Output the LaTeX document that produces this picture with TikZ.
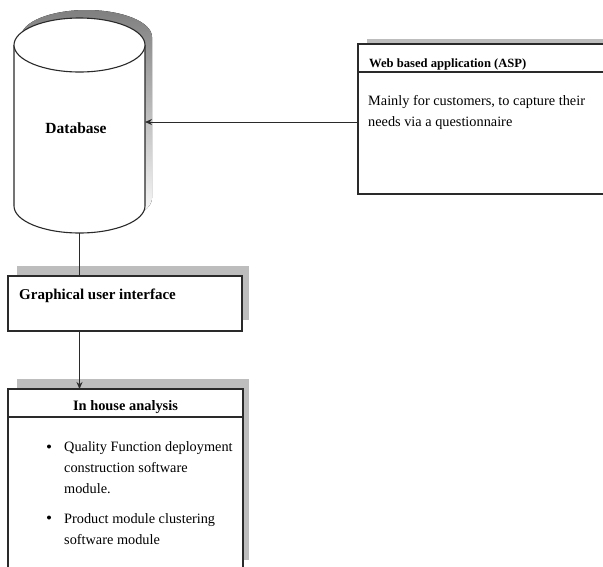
\documentclass[tikz,border=0pt]{standalone}
\usepackage{fontspec}
\setmainfont{Liberation Serif}
\usetikzlibrary{arrows.meta}
\definecolor{shade}{HTML}{BDBDBD}
\definecolor{ink}{HTML}{2A2A2A}
\tikzset{
  shadowfill/.style={fill=shade, draw=none},
  boxline/.style={draw=ink, line width=1.1pt},
  conn/.style={draw=ink, line width=1pt},
  arrowconn/.style={conn, -{Stealth[length=7pt,width=6pt]}},
  boldtxt/.style={font=\fontsize{15}{18}\selectfont\bfseries, inner sep=0pt},
  bodytxt/.style={font=\fontsize{14.3}{21}\selectfont, inner sep=0pt, align=left},
  bullet/.style={circle, fill=black, inner sep=0pt, minimum size=4pt}
}
\begin{document}
\begin{tikzpicture}[x=1pt,y=-1pt]
\useasboundingbox (0,0) rectangle (603,566);
% ---------- Database cylinder ----------
\def\cx{79.5}\def\rx{65.5}\def\ry{27}\def\ty{45}\def\by{206}
% shadow
\fill[shade, shift={(7,-8)}] (\cx-\rx,\ty) arc[start angle=180,end angle=360,x radius=\rx,y radius=\ry]
  -- (\cx+\rx,\by) arc[start angle=0,end angle=180,x radius=\rx,y radius=\ry] -- cycle;
% body
\filldraw[fill=white, boxline] (\cx-\rx,\ty) -- (\cx-\rx,\by)
  arc[start angle=180,end angle=0,x radius=\rx,y radius=\ry] -- (\cx+\rx,\ty);
\draw[fill=white, boxline] (\cx,\ty) ellipse[x radius=\rx, y radius=\ry];
\coordinate (dbright) at (\cx+\rx,122);
\coordinate (dbbottom) at (\cx,\by+\ry);
\node[boldtxt, font=\fontsize{15.5}{18}\selectfont\bfseries] (db) at (76,128) {Database};
% ---------- Web based application ----------
\fill[shadowfill] (367,39) rectangle (615,190);
\filldraw[fill=white, boxline] (358,44) rectangle (612,194);
\draw[boxline] (358,72) -- (612,72);
\coordinate (webleft) at (358,122);
\node[boldtxt, font=\fontsize{12.6}{15}\selectfont\bfseries, anchor=base west] (webhead) at (369,67) {Web based application (ASP)};
\node[bodytxt, anchor=base west] (webbody) at (368,126) {Mainly for customers, to capture their\\needs via a questionnaire};
% ---------- Graphical user interface ----------
\fill[shadowfill] (17,266) rectangle (249,320);
\filldraw[fill=white, boxline] (8,276) rectangle (242,331);
\node[boldtxt, anchor=base west] (guitxt) at (19,299) {Graphical user interface};
\coordinate (guitop) at (79.5,276);
\coordinate (guibottom) at (79.5,331);
% ---------- In house analysis ----------
\fill[shadowfill] (17,379) rectangle (249,560);
\fill[white] (8,389) rectangle (243,575);
\draw[boxline] (8,575) -- (8,389) -- (243,389) -- (243,575);
\draw[boxline] (8,417) -- (243,417);
\coordinate (ihtop) at (79.5,389);
\node[boldtxt, font=\fontsize{14.4}{18}\selectfont\bfseries, anchor=base] (ihhead) at (125.5,410) {In house analysis};
\node[bodytxt, anchor=base west] (item1) at (64,493) {Quality Function deployment\\construction software\\module.};
\node[bodytxt, anchor=base west] (item2) at (64,544) {Product module clustering\\software module};
\node[bullet] (b1) at (49,446.5) {};
\node[bullet] (b2) at (49,517.5) {};
% ---------- Connectors ----------
\draw[arrowconn] (webleft) -- (dbright);
\draw[conn] (dbbottom) -- (guitop);
\draw[arrowconn] (guibottom) -- (ihtop);
\end{tikzpicture}
\end{document}
